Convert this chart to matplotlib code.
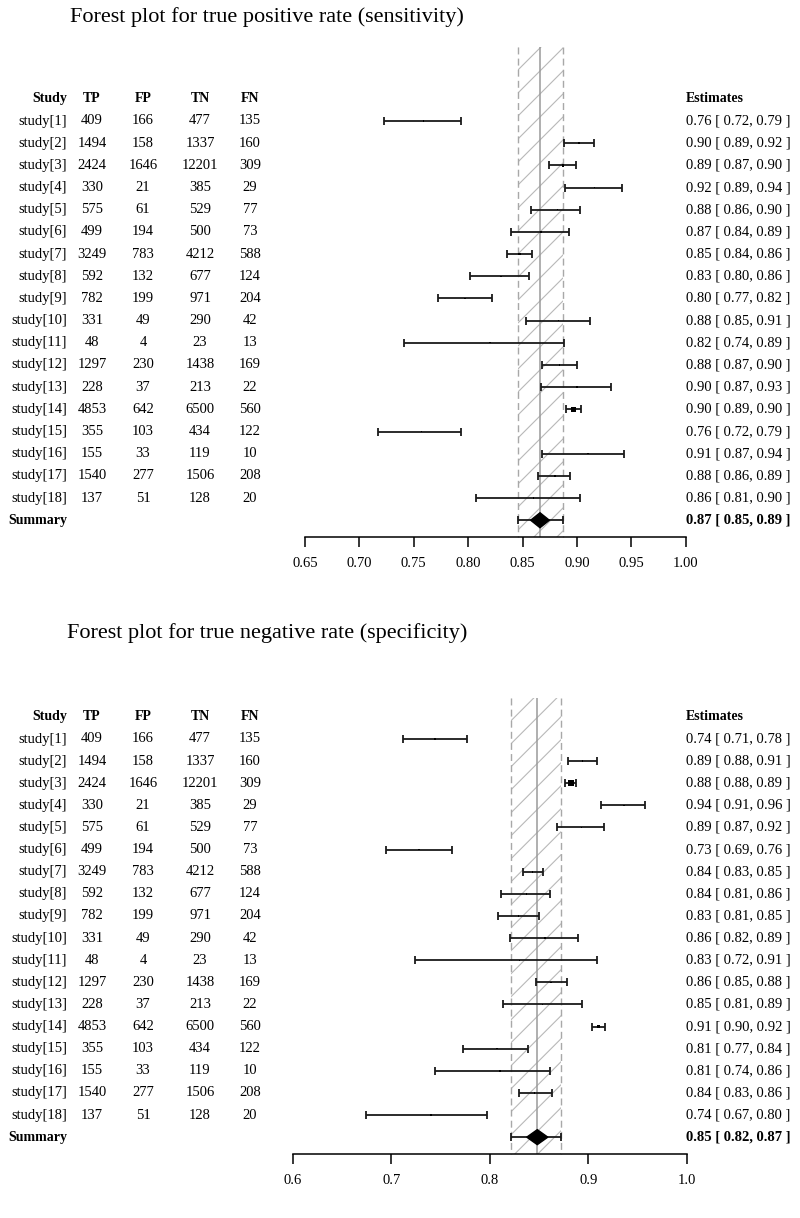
import numpy as np
import matplotlib
matplotlib.use('Agg')
import matplotlib.pyplot as plt
from matplotlib.patches import Rectangle, Polygon
from matplotlib.transforms import blended_transform_factory

plt.rcParams['font.family'] = ['Liberation Serif', 'DejaVu Serif']

# study table
studies = ['study[%d]' % i for i in range(1, 19)]
tp = [409, 1494, 2424, 330, 575, 499, 3249, 592, 782, 331, 48, 1297, 228, 4853, 355, 155, 1540, 137]
fp = [166, 158, 1646, 21, 61, 194, 783, 132, 199, 49, 4, 230, 37, 642, 103, 33, 277, 51]
tn = [477, 1337, 12201, 385, 529, 500, 4212, 677, 971, 290, 23, 1438, 213, 6500, 434, 119, 1506, 128]
fn = [135, 160, 309, 29, 77, 73, 588, 124, 204, 42, 13, 169, 22, 560, 122, 10, 208, 20]

# sensitivity estimates with 95% CI
sens_est = [0.759, 0.902, 0.887, 0.916, 0.882, 0.867, 0.847, 0.830, 0.797, 0.883,
            0.820, 0.884, 0.900, 0.897, 0.757, 0.910, 0.880, 0.860]
sens_lo = [0.723, 0.888, 0.874, 0.889, 0.858, 0.839, 0.836, 0.802, 0.772, 0.853,
           0.741, 0.868, 0.867, 0.890, 0.717, 0.868, 0.864, 0.807]
sens_hi = [0.793, 0.916, 0.899, 0.941, 0.903, 0.893, 0.859, 0.856, 0.822, 0.912,
           0.888, 0.900, 0.931, 0.904, 0.793, 0.943, 0.894, 0.903]
sens_summary = [0.866, 0.846, 0.887]

# specificity estimates with 95% CI
spec_est = [0.744, 0.894, 0.882, 0.936, 0.893, 0.728, 0.843, 0.837, 0.829, 0.856,
            0.830, 0.862, 0.853, 0.910, 0.807, 0.810, 0.845, 0.740]
spec_lo = [0.712, 0.879, 0.876, 0.913, 0.868, 0.694, 0.833, 0.811, 0.808, 0.820,
           0.724, 0.847, 0.813, 0.904, 0.773, 0.744, 0.829, 0.674]
spec_hi = [0.777, 0.909, 0.887, 0.957, 0.916, 0.761, 0.854, 0.861, 0.850, 0.889,
           0.909, 0.878, 0.893, 0.917, 0.839, 0.861, 0.863, 0.797]
spec_summary = [0.848, 0.821, 0.872]

sens_ticks = [0.65, 0.70, 0.75, 0.80, 0.85, 0.90, 0.95, 1.00]
spec_ticks = [0.6, 0.7, 0.8, 0.9, 1.0]

W, H = 800, 1218
fig = plt.figure(figsize=(W / 100, H / 100), dpi=100)

FS = 10.5


def fmt_ci(e, l, h):
    return '%.2f [ %.2f, %.2f ]' % (e, l, h)


def draw_panel(title, title_px, top_px, bot_px, row1_px, step, x0_px, kx,
               ticks, tick_fmt, est, lo, hi, summ, n, band_top_row):
    ax = fig.add_axes([0, 1 - bot_px / H, 1, (bot_px - top_px) / H])
    t0 = ticks[0]
    ax.set_xlim(t0 - x0_px / kx, t0 + (W - x0_px) / kx)
    ax.set_ylim(1 + (bot_px - row1_px) / step, 1 + (top_px - row1_px) / step)
    ax.patch.set_visible(False)

    rows = np.arange(1, len(est) + 1)
    est, lo, hi = np.array(est), np.array(lo), np.array(hi)
    sum_row = len(est) + 1
    axis_row = sum_row + 0.77

    # hatched band for the summary CI
    s_est, s_lo, s_hi = summ
    rect = Rectangle((s_lo, band_top_row), s_hi - s_lo, axis_row - band_top_row,
                     facecolor='none', edgecolor='none')
    ax.add_patch(rect)
    slope = kx / step
    spacing = 23 / step
    r0 = band_top_row
    while r0 < axis_row + (s_hi - s_lo) * slope + spacing:
        ln, = ax.plot([s_lo, s_hi], [r0, r0 - (s_hi - s_lo) * slope],
                      color='#b8b8b8', lw=0.8, zorder=1)
        ln.set_clip_path(rect)
        r0 += spacing
    ax.vlines([s_lo, s_hi], band_top_row, axis_row, colors='#a8a8a8',
              linestyles=(0, (5, 3)), lw=1.0, zorder=2)
    ax.vlines(s_est, band_top_row, axis_row, colors='#9a9a9a', lw=1.1, zorder=2)

    # study CIs
    ax.errorbar(est, rows, xerr=[est - lo, hi - est], fmt='none', ecolor='#1a1a1a',
                elinewidth=1.3, capsize=3, capthick=1.3, zorder=3)
    n = np.array(n, dtype=float)
    w = n / (est * (1 - est))
    side = np.clip(5.5 * w / w.max(), 1.4, None)
    ax.scatter(est, rows, marker='s', s=(side * 0.72) ** 2, color='black',
               linewidths=0, zorder=4)

    # summary
    ax.errorbar([s_est], [sum_row], xerr=[[s_est - s_lo], [s_hi - s_est]], fmt='none',
                ecolor='#1a1a1a', elinewidth=1.3, capsize=3, capthick=1.3, zorder=3)
    dw = 0.42 * (s_hi - s_lo) / 2
    dh = 7.5 / step
    ax.add_patch(Polygon([(s_est - dw, sum_row), (s_est, sum_row - dh),
                          (s_est + dw, sum_row), (s_est, sum_row + dh)],
                         closed=True, facecolor='black', edgecolor='black', zorder=5))

    # axis
    for side_name in ['top', 'left', 'right']:
        ax.spines[side_name].set_visible(False)
    ax.spines['bottom'].set_position(('data', axis_row))
    ax.spines['bottom'].set_bounds(ticks[0], ticks[-1])
    ax.spines['bottom'].set_linewidth(1.1)
    ax.set_yticks([])
    ax.set_xticks(ticks)
    ax.set_xticklabels([tick_fmt % t for t in ticks])
    ax.tick_params(axis='x', direction='out', length=7, width=1.1, pad=7, labelsize=FS)

    # table text
    tr = blended_transform_factory(fig.transFigure, ax.transData)
    cols = [(67 / W, 'right'), (92 / W, 'center'), (143 / W, 'center'),
            (200 / W, 'center'), (250 / W, 'center')]
    heads = ['Study', 'TP', 'FP', 'TN', 'FN']
    for (cx, ha), hd in zip(cols, heads):
        ax.text(cx, 0, hd, transform=tr, ha=ha, va='center', fontsize=FS - 0.5,
                fontweight='bold')
    ax.text(686 / W, 0, 'Estimates', transform=tr, ha='left', va='center',
            fontsize=FS - 0.5, fontweight='bold')
    for i, r in enumerate(rows):
        vals = [studies[i], tp[i], fp[i], tn[i], fn[i]]
        for (cx, ha), v in zip(cols, vals):
            ax.text(cx, r, str(v), transform=tr, ha=ha, va='center', fontsize=FS)
        ax.text(686 / W, r, fmt_ci(est[i], lo[i], hi[i]), transform=tr,
                ha='left', va='center', fontsize=FS)
    ax.text(67 / W, sum_row, 'Summary', transform=tr, ha='right', va='center',
            fontsize=FS - 0.5, fontweight='bold')
    ax.text(686 / W, sum_row, fmt_ci(s_est, s_lo, s_hi), transform=tr, ha='left',
            va='center', fontsize=FS, fontweight='bold')

    fig.text(267 / W, 1 - title_px / H, title, ha='center', va='center', fontsize=16)
    return ax


draw_panel('Forest plot for true positive rate (sensitivity)', 17,
           0, 605, 121, 22.18, 305, 1088, sens_ticks, '%.2f',
           sens_est, sens_lo, sens_hi, sens_summary,
           np.array(tp) + np.array(fn), -2.35)

draw_panel('Forest plot for true negative rate (specificity)', 633,
           605, 1218, 739, 22.12, 293, 985, spec_ticks, '%.1f',
           spec_est, spec_lo, spec_hi, spec_summary,
           np.array(tn) + np.array(fp), -0.85)

fig.savefig('out.png', dpi=100)
